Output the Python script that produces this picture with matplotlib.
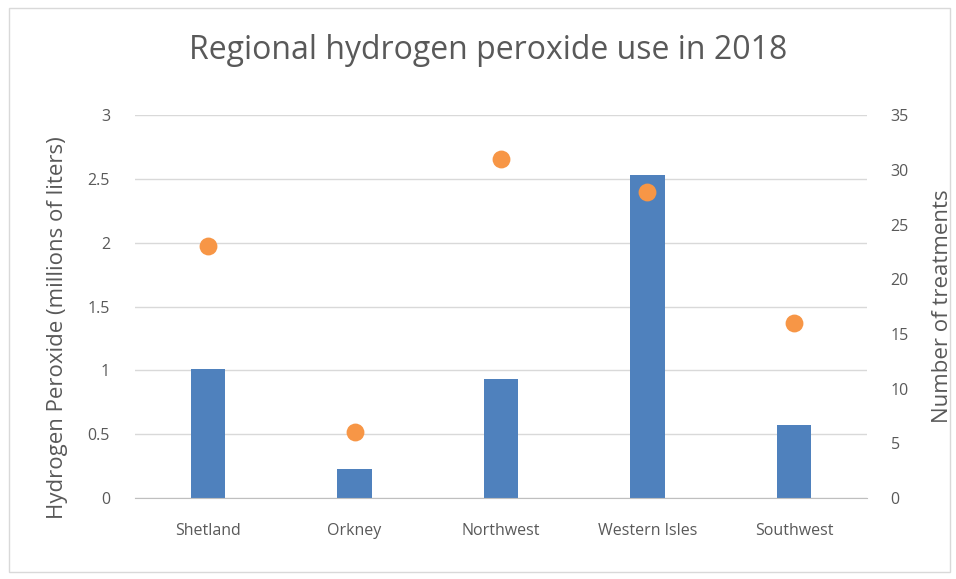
import numpy as np
import matplotlib.pyplot as plt
from matplotlib.patches import Rectangle

# data
regions = ["Shetland", "Orkney", "Northwest", "Western Isles", "Southwest"]
peroxide = [1.01, 0.23, 0.935, 2.53, 0.57]   # millions of liters
treatments = [23, 6, 31, 28, 16]

plt.rcParams['font.family'] = ['Open Sans', 'DejaVu Sans']
txt = "#595959"

fig = plt.figure(figsize=(9.56, 5.79), dpi=100)
ax = fig.add_axes([0.1412, 0.140, 0.7658, 0.661])
ax2 = ax.twinx()

x = np.arange(len(regions))
ax.bar(x, peroxide, width=0.235, color="#4F81BD", zorder=2)
ax2.scatter(x, treatments, s=165, color="#F79646", zorder=3, linewidths=0)

ax.set_xlim(-0.5, len(regions) - 0.5)
ax.set_ylim(0, 3)
ax.set_yticks(np.arange(0, 3.01, 0.5))
ax.set_yticklabels(["0", "0.5", "1", "1.5", "2", "2.5", "3"])
ax2.set_ylim(0, 35)
ax2.set_yticks(np.arange(0, 36, 5))

ax.set_xticks(x)
ax.set_xticklabels(regions)
ax.grid(axis="y", color="#D9D9D9", linewidth=1, zorder=0)
ax.set_axisbelow(True)

for a in (ax, ax2):
    for s in a.spines.values():
        s.set_visible(False)
    a.tick_params(length=0, colors=txt, labelsize=11.5)
ax.spines["bottom"].set_visible(True)
ax.spines["bottom"].set_color("#BFBFBF")
ax.tick_params(axis="x", pad=18)
ax.tick_params(axis="y", pad=18)
ax2.tick_params(axis="y", pad=17)

ax.set_ylabel("Hydrogen Peroxide (millions of liters)", color=txt, fontsize=16)
ax.yaxis.set_label_coords(-0.0915, 0.446)
ax2.set_ylabel("Number of treatments", color=txt, fontsize=16)
ax2.yaxis.set_label_coords(1.089, 0.5)
fig.text(0.5105, 0.912, "Regional hydrogen peroxide use in 2018", ha="center", va="center",
         color=txt, fontsize=23)

fig.patches.append(Rectangle((0.009, 0.012), 0.985, 0.975, transform=fig.transFigure,
                             fill=False, edgecolor="#D9D9D9", linewidth=1))

fig.savefig("out.png", dpi=100)
